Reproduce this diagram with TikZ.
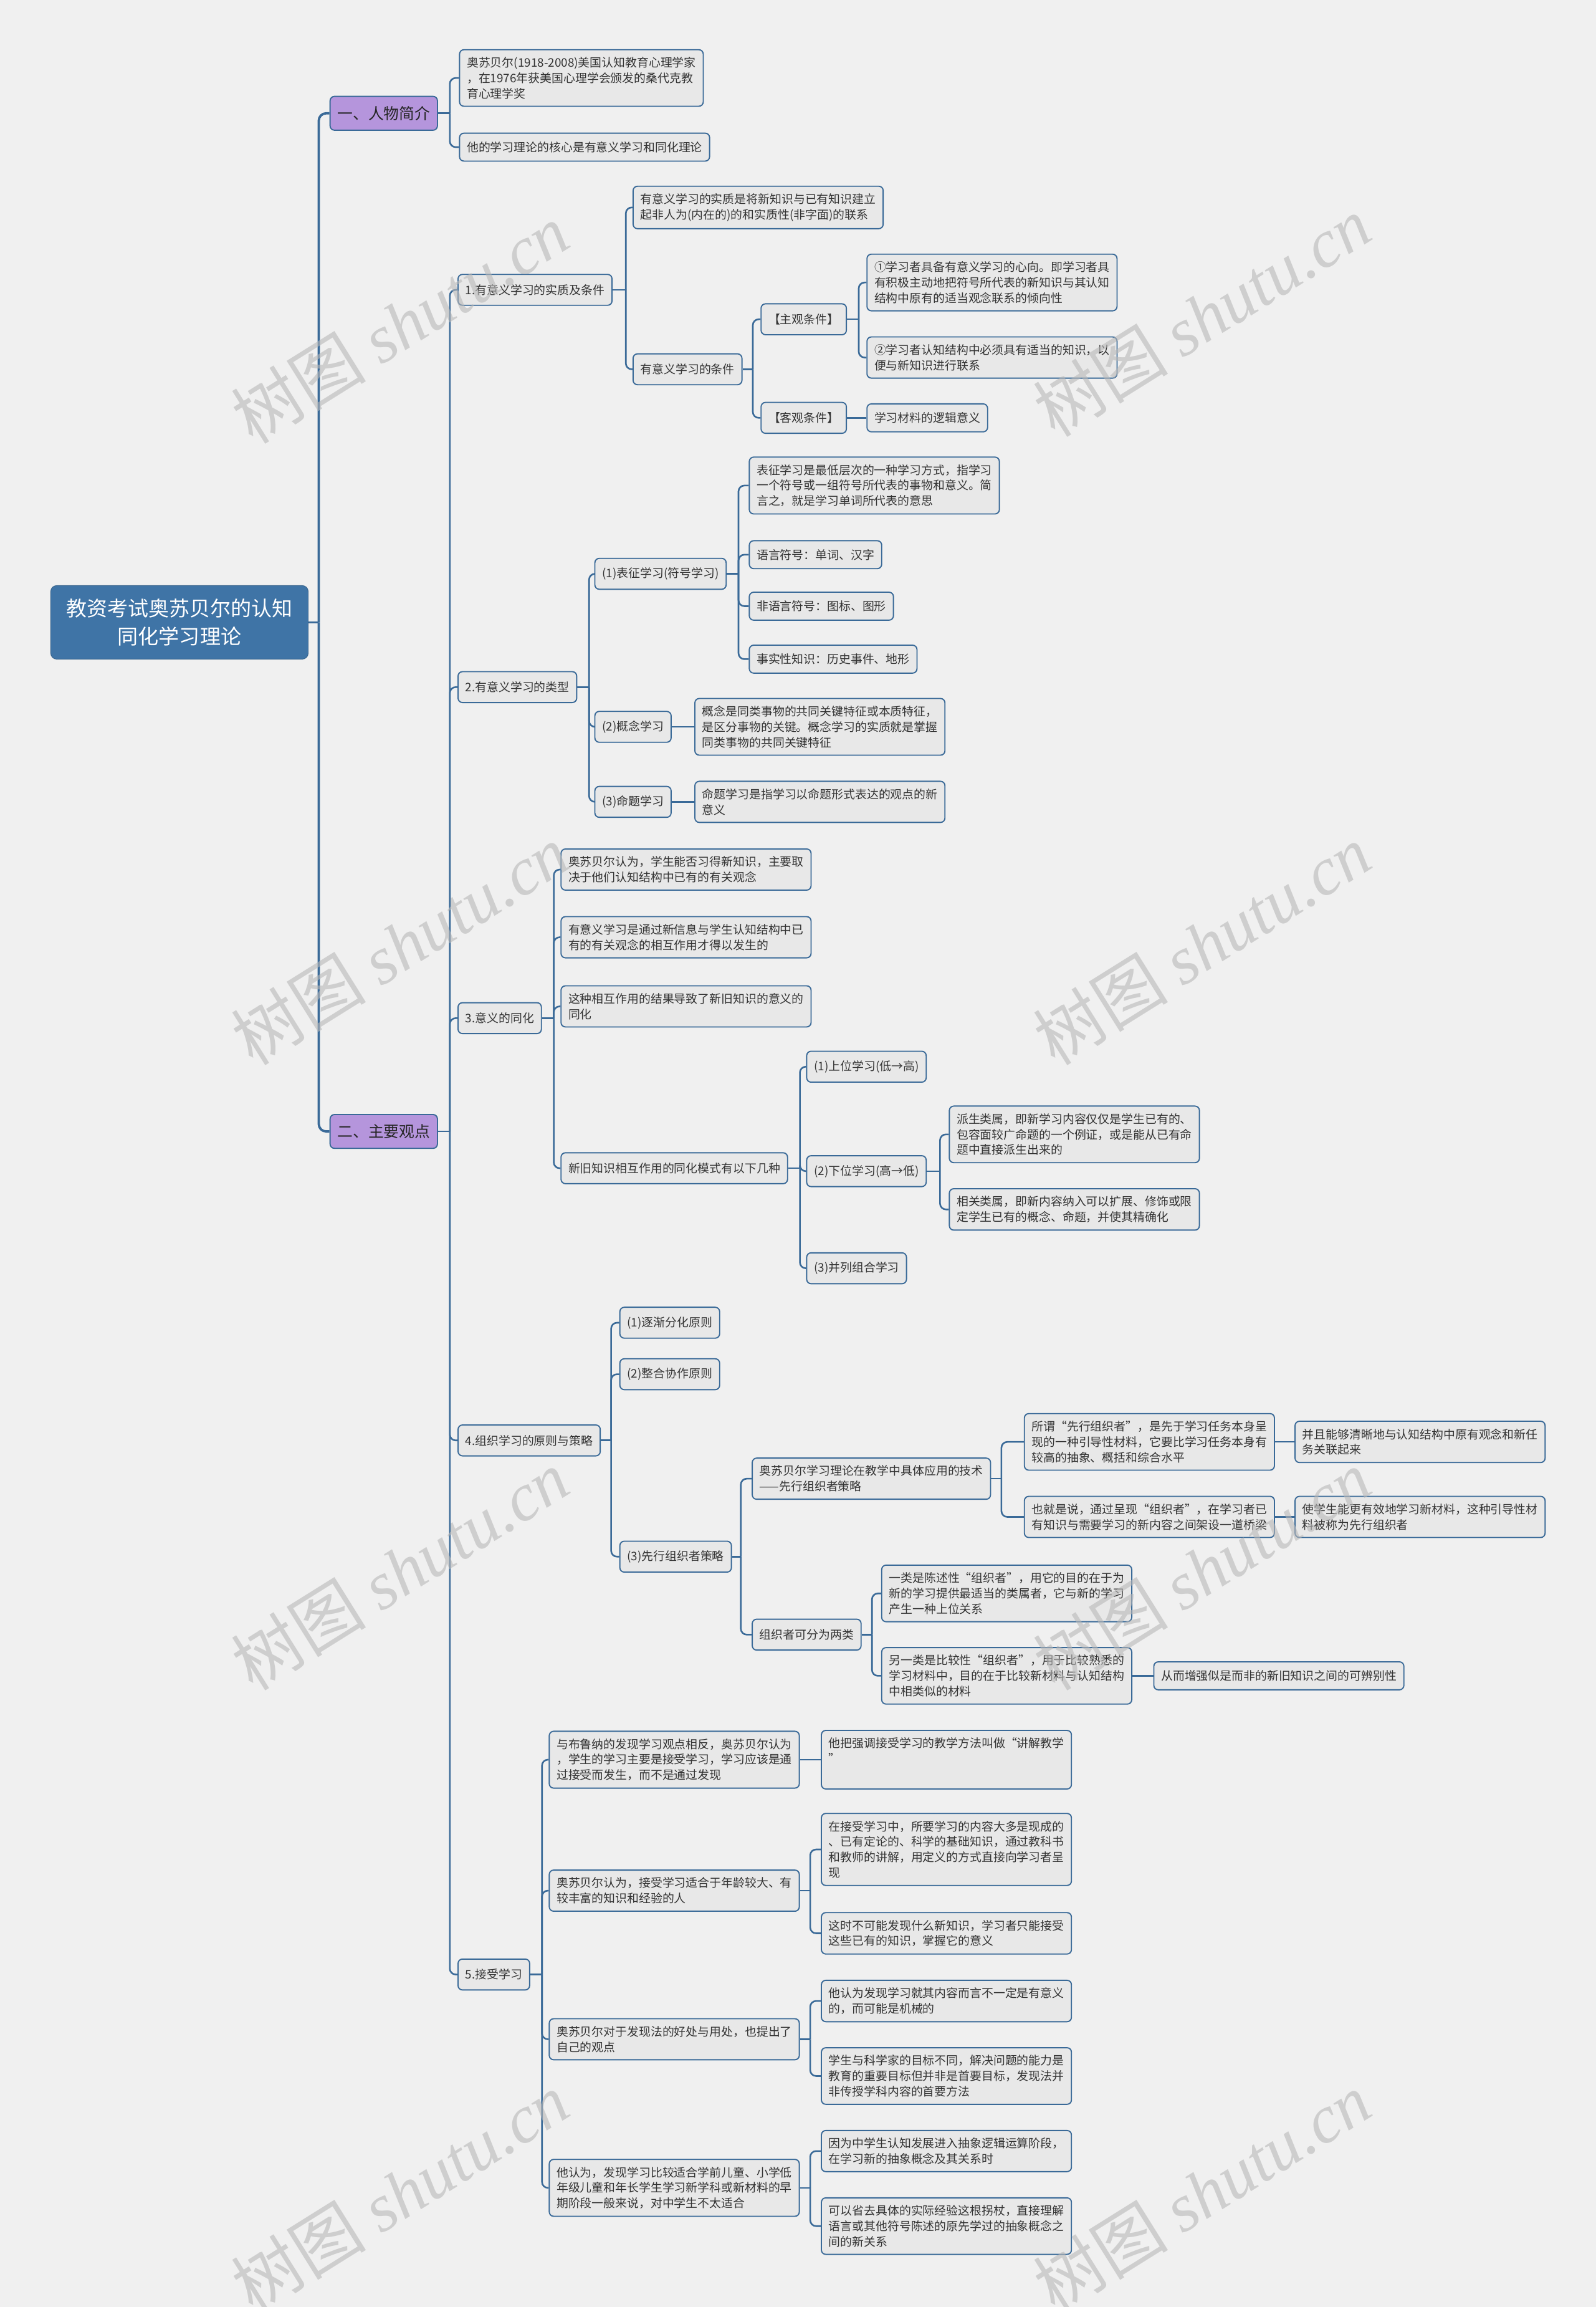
\documentclass[tikz,border=0pt]{standalone}
\usepackage{fontspec}
\setmainfont{Noto Sans CJK SC}
\newfontfamily\wmlatin{Liberation Serif}
\usetikzlibrary{positioning}
\definecolor{mapline}{HTML}{3A6A98}
\definecolor{mapbg}{HTML}{F0F0F0}
\definecolor{boxfill}{HTML}{E8E8E8}
\definecolor{rootblue}{HTML}{3F74A6}
\definecolor{lilac}{HTML}{B595DC}
\definecolor{inktext}{HTML}{333333}
\definecolor{wmgray}{HTML}{B8B8B8}
\tikzset{
  link/.style={draw=mapline,line width=1.1pt,rounded corners=4pt},
  trunk/.style={draw=mapline,line width=1.6pt,rounded corners=5pt},
  rootbox/.style={rounded corners=4pt,fill=rootblue,draw=rootblue!85!black,text=white,
    font=\fontsize{14}{19}\selectfont,align=center,inner xsep=9pt,inner ysep=8pt,
    minimum width=175pt,minimum height=50pt},
  headbox/.style={rounded corners=3pt,fill=lilac,draw=mapline,line width=0.8pt,
    text=black!85,font=\fontsize{10.5}{12}\selectfont,inner xsep=5pt,
    minimum height=23pt,anchor=west},
  topic/.style={rounded corners=3pt,fill=boxfill,draw=mapline,line width=0.8pt,
    text=inktext,font=\fontsize{8}{10.5}\selectfont,align=left,inner xsep=5pt,
    inner ysep=5pt,minimum height=21pt,anchor=west},
  leaf/.style={topic,minimum height=19pt},
  wm/.style={text=wmgray,opacity=0.6,rotate=32,font=\fontsize{46}{46}\selectfont},
}
% parent -> children, elbow connectors
\newcommand{\fork}[3][7]{%
  \draw[link] (#2.east) -- ++(#1,0) coordinate (#2-f);
  \foreach \kid in {#3} {\draw[link] (#2-f) |- (\kid.west);}
}
% parent -> single child on the same line
\newcommand{\joint}[2]{\draw[link] (#1.east) -- (#2.west);}
\begin{document}
\begin{tikzpicture}[x=1pt,y=-1pt]
\fill[mapbg] (0,0) rectangle (1085,1568);
\useasboundingbox (0,0) rectangle (1085,1568);

% root and main headings
\node[rootbox] (root) at (122,423) {教资考试奥苏贝尔的认知\\同化学习理论};
\node[headbox] (p1) at (224,77) {一、人物简介};
\node[headbox] (p2) at (224,769) {二、主要观点};
\draw[trunk] (root.east) -- ++(7,0) coordinate (root-f);
\draw[trunk] (root-f) |- (p1.west);
\draw[trunk] (root-f) |- (p2.west);

% 一、人物简介
\node[leaf] (n11) at (312,53) {奥苏贝尔(1918-2008)美国认知教育心理学家\\，在1976年获美国心理学会颁发的桑代克教\\育心理学奖};
\node[leaf] (n12) at (312,100) {他的学习理论的核心是有意义学习和同化理论};
\fork[8]{p1}{n11,n12}

% 二、主要观点
\node[topic] (A) at (311,197) {1.有意义学习的实质及条件};
\node[topic] (B) at (311,467) {2.有意义学习的类型};
\node[topic] (C) at (311,692) {3.意义的同化};
\node[topic] (D) at (311,979) {4.组织学习的原则与策略};
\node[topic] (E) at (311,1342) {5.接受学习};
\fork[8]{p2}{A,B,C,D,E}

% 1.
\node[leaf] (A1) at (430,141) {有意义学习的实质是将新知识与已有知识建立\\起非人为(内在的)的和实质性(非字面)的联系};
\node[topic] (A2) at (430,251) {有意义学习的条件};
\fork[9]{A}{A1,A2}
\node[topic] (A21) at (517,217) {【主观条件】};
\node[topic] (A22) at (517,284) {【客观条件】};
\fork{A2}{A21,A22}
\node[leaf] (A211) at (589,192) {①学习者具备有意义学习的心向。即学习者具\\有积极主动地把符号所代表的新知识与其认知\\结构中原有的适当观念联系的倾向性};
\node[leaf] (A212) at (589,243) {②学习者认知结构中必须具有适当的知识，以\\便与新知识进行联系};
\fork[8]{A21}{A211,A212}
\node[leaf] (A221) at (589,284) {学习材料的逻辑意义};
\joint{A22}{A221}

% 2.
\node[topic] (B1) at (404,390) {(1)表征学习(符号学习)};
\node[topic] (B2) at (404,494) {(2)概念学习};
\node[topic] (B3) at (404,545) {(3)命题学习};
\fork[8]{B}{B1,B2,B3}
\node[leaf] (B11) at (509,330) {表征学习是最低层次的一种学习方式，指学习\\一个符号或一组符号所代表的事物和意义。简\\言之，就是学习单词所代表的意思};
\node[leaf] (B12) at (509,377) {语言符号：单词、汉字};
\node[leaf] (B13) at (509,412) {非语言符号：图标、图形};
\node[leaf] (B14) at (509,448) {事实性知识：历史事件、地形};
\fork[8]{B1}{B11,B12,B13,B14}
\node[leaf] (B21) at (472,494) {概念是同类事物的共同关键特征或本质特征，\\是区分事物的关键。概念学习的实质就是掌握\\同类事物的共同关键特征};
\joint{B2}{B21}
\node[leaf] (B31) at (472,545) {命题学习是指学习以命题形式表达的观点的新\\意义};
\joint{B3}{B31}

% 3.
\node[leaf] (C1) at (381,591) {奥苏贝尔认为，学生能否习得新知识，主要取\\决于他们认知结构中已有的有关观念};
\node[leaf] (C2) at (381,637) {有意义学习是通过新信息与学生认知结构中已\\有的有关观念的相互作用才得以发生的};
\node[leaf] (C3) at (381,684) {这种相互作用的结果导致了新旧知识的意义的\\同化};
\node[topic] (C4) at (381,794) {新旧知识相互作用的同化模式有以下几种};
\fork[8]{C}{C1,C2,C3,C4}
\node[topic] (C41) at (548,725) {(1)上位学习(低→高)};
\node[topic] (C42) at (548,796) {(2)下位学习(高→低)};
\node[topic] (C43) at (548,862) {(3)并列组合学习};
\fork[8]{C4}{C41,C42,C43}
\node[leaf] (C421) at (645,771) {派生类属，即新学习内容仅仅是学生已有的、\\包容面较广命题的一个例证，或是能从已有命\\题中直接派生出来的};
\node[leaf] (C422) at (645,822) {相关类属，即新内容纳入可以扩展、修饰或限\\定学生已有的概念、命题，并使其精确化};
\fork[9]{C42}{C421,C422}

% 4.
\node[topic] (D1) at (421,899) {(1)逐渐分化原则};
\node[topic] (D2) at (421,934) {(2)整合协作原则};
\node[topic] (D3) at (421,1058) {(3)先行组织者策略};
\fork{D}{D1,D2,D3}
\node[leaf] (D31) at (511,1005) {奥苏贝尔学习理论在教学中具体应用的技术\\——先行组织者策略};
\node[topic] (D32) at (511,1111) {组织者可分为两类};
\fork[6]{D3}{D31,D32}
\node[leaf] (D311) at (696,980) {所谓“先行组织者”，是先于学习任务本身呈\\现的一种引导性材料，它要比学习任务本身有\\较高的抽象、概括和综合水平};
\node[leaf] (D312) at (696,1031) {也就是说，通过呈现“组织者”，在学习者已\\有知识与需要学习的新内容之间架设一道桥梁};
\fork{D31}{D311,D312}
\node[leaf] (D3111) at (880,980) {并且能够清晰地与认知结构中原有观念和新任\\务关联起来};
\joint{D311}{D3111}
\node[leaf] (D3121) at (880,1031) {使学生能更有效地学习新材料，这种引导性材\\料被称为先行组织者};
\joint{D312}{D3121}
\node[leaf] (D321) at (599,1083) {一类是陈述性“组织者”，用它的目的在于为\\新的学习提供最适当的类属者，它与新的学习\\产生一种上位关系};
\node[leaf] (D322) at (599,1139) {另一类是比较性“组织者”，用于比较熟悉的\\学习材料中，目的在于比较新材料与认知结构\\中相类似的材料};
\fork{D32}{D321,D322}
\node[leaf] (D3221) at (784,1139) {从而增强似是而非的新旧知识之间的可辨别性};
\joint{D322}{D3221}

% 5.
\node[leaf] (E1) at (373,1196) {与布鲁纳的发现学习观点相反，奥苏贝尔认为\\，学生的学习主要是接受学习，学习应该是通\\过接受而发生，而不是通过发现};
\node[leaf] (E2) at (373,1285) {奥苏贝尔认为，接受学习适合于年龄较大、有\\较丰富的知识和经验的人};
\node[leaf] (E3) at (373,1386) {奥苏贝尔对于发现法的好处与用处，也提出了\\自己的观点};
\node[leaf] (E4) at (373,1487) {他认为，发现学习比较适合学前儿童、小学低\\年级儿童和年长学生学习新学科或新材料的早\\期阶段一般来说，对中学生不太适合};
\fork[8]{E}{E1,E2,E3,E4}
\node[leaf] (E11) at (558,1196) {他把强调接受学习的教学方法叫做“讲解教学\\”\\[2pt]};
\joint{E1}{E11}
\node[leaf] (E21) at (558,1257) {在接受学习中，所要学习的内容大多是现成的\\、已有定论的、科学的基础知识，通过教科书\\和教师的讲解，用定义的方式直接向学习者呈\\现};
\node[leaf] (E22) at (558,1314) {这时不可能发现什么新知识，学习者只能接受\\这些已有的知识，掌握它的意义};
\fork{E2}{E21,E22}
\node[leaf] (E31) at (558,1360) {他认为发现学习就其内容而言不一定是有意义\\的，而可能是机械的};
\node[leaf] (E32) at (558,1411) {学生与科学家的目标不同，解决问题的能力是\\教育的重要目标但并非是首要目标，发现法并\\非传授学科内容的首要方法};
\fork{E3}{E31,E32}
\node[leaf] (E41) at (558,1462) {因为中学生认知发展进入抽象逻辑运算阶段，\\在学习新的抽象概念及其关系时};
\node[leaf] (E42) at (558,1513) {可以省去具体的实际经验这根拐杖，直接理解\\语言或其他符号陈述的原先学过的抽象概念之\\间的新关系};
\fork{E4}{E41,E42}

% watermarks
\foreach \wx/\wy [count=\i] in {272/220,817/215,272/642,817/642,272/1067,817/1067,272/1490,817/1490}
  \node[wm] (wm\i) at (\wx,\wy) {树图 {\wmlatin\itshape shutu.cn}};
\end{tikzpicture}
\end{document}
